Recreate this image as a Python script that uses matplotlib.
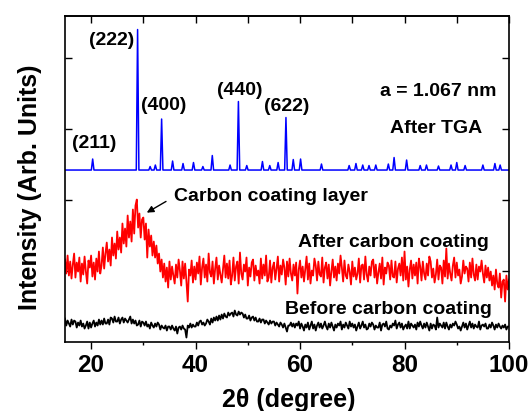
import numpy as np
import matplotlib
matplotlib.use('Agg')
import matplotlib.pyplot as plt

plt.rcParams['font.family'] = ['Liberation Sans', 'DejaVu Sans']
plt.rcParams['font.weight'] = 'bold'

# --- data (intensity in arbitrary units) ---
two_theta_start = 15.0
two_theta_step = 0.25

# After TGA: flat baseline plus sharp peaks (position, top)
tga_baseline = 171.5
tga_peak_pos = [20.3, 28.9, 31.3, 32.3, 33.5, 35.6, 37.6, 39.6, 41.4, 43.2,
                46.6, 48.2, 49.8, 52.8, 54.2, 55.8, 57.3, 58.7, 60.1, 64.1,
                69.4, 70.7, 72.0, 73.2, 74.5, 76.9, 78.0, 80.4, 83.0, 84.2,
                86.5, 88.9, 90.0, 91.6, 95.0, 97.3, 98.3]
tga_peak_top = [182.5, 312, 175, 176.5, 222.5, 180.5, 178, 179, 175, 186,
                176.5, 240, 176, 180, 176, 179, 224, 182, 182.5, 177.5,
                176, 178, 176.5, 176, 176.5, 177.5, 184, 181.5, 176, 176.5,
                175.5, 176.5, 179, 176, 176.5, 178, 176.5]

# After carbon coating (one value every 0.25 deg, 15 -> 100)
after_coating = [
    82, 68, 86, 66, 80, 63, 77, 88, 64, 79, 70, 84, 60, 78, 67, 85,
    70, 58, 81, 74, 86, 65, 79, 62, 83, 70, 90, 68, 76, 94, 73, 88,
    99, 80, 92, 76, 104, 86, 98, 83, 110, 92, 104, 89, 118, 98, 113, 95,
    126, 104, 120, 100, 132, 108, 136, 142, 114, 128, 104, 122, 124, 102, 118, 84,
    112, 95, 106, 86, 100, 84, 96, 78, 88, 70, 82, 64, 78, 60, 74, 54,
    80, 62, 75, 66, 58, 77, 64, 82, 71, 56, 80, 63, 78, 60, 40, 72,
    66, 81, 59, 75, 62, 79, 68, 85, 57, 74, 83, 64, 77, 60, 88, 69,
    65, 80, 58, 73, 84, 62, 76, 67, 59, 72, 86, 64, 78, 63, 81, 57,
    66, 84, 61, 75, 80, 58, 89, 68, 62, 77, 70, 84, 56, 74, 65, 79,
    82, 61, 76, 66, 71, 58, 83, 63, 77, 66, 86, 60, 64, 81, 59, 74,
    79, 62, 73, 85, 60, 76, 67, 82, 74, 57, 80, 65, 83, 68, 61, 77,
    66, 79, 48, 72, 81, 64, 75, 60, 73, 85, 62, 78, 58, 71, 66, 83,
    76, 61, 80, 67, 65, 84, 59, 74, 79, 63, 77, 56, 70, 82, 64, 75,
    61, 78, 68, 86, 74, 60, 81, 66, 63, 77, 70, 57, 80, 65, 74, 62,
    68, 83, 59, 76, 77, 62, 85, 67, 60, 75, 66, 80, 82, 64, 77, 58,
    69, 78, 63, 84, 57, 74, 68, 79, 76, 62, 81, 65, 64, 80, 59, 73,
    78, 66, 84, 61, 90, 62, 75, 55, 72, 81, 63, 77, 66, 79, 58, 83,
    75, 61, 80, 68, 62, 78, 66, 85, 80, 64, 73, 59, 67, 82, 62, 76,
    74, 58, 81, 65, 93, 63, 78, 68, 61, 76, 84, 64, 79, 66, 72, 58,
    65, 81, 68, 75, 73, 60, 79, 64, 83, 67, 61, 77, 62, 75, 70, 81,
    68, 59, 76, 64, 74, 61, 70, 56, 66, 52, 72, 58, 54, 68, 44, 60,
    62, 40, 66, 52, 62]

# Before carbon coating (one value every 0.25 deg, 15 -> 100)
before_coating = [
    23, 16, 21, 18, 15, 22, 17, 21, 20, 14, 19, 16, 21, 15, 18, 13,
    16, 20, 13, 19, 14, 18, 21, 15, 19, 16, 22, 17, 21, 17, 23, 18,
    18, 22, 17, 24, 23, 19, 25, 20, 20, 24, 18, 22, 24, 19, 23, 21,
    19, 22, 25, 18, 22, 18, 21, 16, 17, 21, 15, 20, 19, 16, 20, 15,
    17, 13, 19, 16, 14, 18, 15, 19, 17, 12, 16, 14, 13, 16, 11, 15,
    15, 12, 16, 13, 11, 15, 8, 14, 15, 12, 16, 13, 12, 4, 16, 14,
    18, 14, 17, 15, 15, 19, 16, 20, 21, 17, 19, 16, 18, 22, 20, 17,
    23, 19, 24, 21, 25, 21, 26, 22, 27, 23, 28, 25, 24, 29, 26, 28,
    29, 25, 31, 27, 26, 30, 27, 29, 28, 24, 27, 23, 23, 26, 21, 24,
    25, 21, 24, 20, 20, 23, 19, 22, 22, 18, 21, 19, 17, 21, 18, 20,
    20, 16, 19, 17, 15, 19, 17, 14, 18, 14, 10, 16, 16, 19, 15, 18,
    14, 18, 16, 20, 13, 18, 15, 11, 17, 14, 19, 12, 16, 20, 13, 17,
    11, 16, 19, 14, 18, 13, 16, 20, 15, 12, 18, 14, 19, 15, 11, 17,
    14, 18, 16, 20, 12, 17, 14, 19, 16, 13, 20, 15, 18, 14, 17, 11,
    15, 19, 13, 16, 20, 14, 17, 12, 13, 18, 15, 19, 17, 12, 16, 14,
    14, 19, 11, 17, 18, 15, 20, 13, 12, 16, 14, 18, 16, 21, 13, 17,
    19, 14, 18, 12, 15, 17, 13, 20, 13, 18, 16, 14, 17, 12, 19, 15,
    20, 16, 13, 18, 14, 19, 15, 11, 18, 13, 17, 16, 12, 24, 14, 18,
    16, 14, 19, 13, 19, 15, 12, 17, 14, 18, 16, 20, 17, 13, 15, 11,
    15, 19, 14, 18, 12, 16, 20, 14, 18, 13, 17, 15, 14, 20, 12, 16,
    17, 15, 18, 13, 13, 17, 14, 19, 16, 12, 17, 14, 18, 15, 13, 16,
    14, 17, 12, 15, 15]

x_ticks_major = [20, 40, 60, 80, 100]
x_tick_labels = ['20', '40', '60', '80', '100']

# --- build traces ---
scan = two_theta_start + two_theta_step * np.arange(len(after_coating))

tga_x = [two_theta_start]
tga_y = [tga_baseline]
for p, h in zip(tga_peak_pos, tga_peak_top):
    tga_x += [p - 0.25, p, p + 0.25]
    tga_y += [tga_baseline, h, tga_baseline]
tga_x.append(100)
tga_y.append(tga_baseline)

fig = plt.figure(figsize=(5.3, 4.11), dpi=100)
ax = fig.add_axes([0.1226, 0.169, 0.8378, 0.792])

ax.plot(tga_x, tga_y, color='#0000ff', lw=1.1)
ax.plot(scan, after_coating, color='#ff0000', lw=1.3)
ax.plot(scan, before_coating, color='black', lw=1.3)

ax.set_xlim(15, 100)
ax.set_ylim(0, 325.5)

# ticks: bottom outward, others inward
ax.set_xticks(x_ticks_major)
ax.set_xticklabels(x_tick_labels)
ax.set_xticks([30, 50, 70, 90], minor=True)
ax.tick_params(axis='x', which='major', direction='out', length=5, width=1,
               labelsize=17.5, pad=4)
ax.tick_params(axis='x', which='minor', direction='out', length=2.5, width=1)
ax.set_yticks([71, 142, 213, 284])
ax.tick_params(axis='y', which='both', direction='in', length=5, width=1,
               left=True, right=True, labelleft=False)
for lab in ax.get_xticklabels():
    lab.set_fontweight('bold')

top = ax.secondary_xaxis('top')
top.set_xticks([20, 30, 40, 50, 60, 70, 80, 90, 100])
top.tick_params(direction='in', length=5, width=1, labeltop=False)
top.spines['top'].set_linewidth(1.2)

for s in ax.spines.values():
    s.set_linewidth(1.2)

ax.set_xlabel('2θ (degree)', fontsize=18, fontweight='bold')
ax.xaxis.set_label_coords(0.505, -0.143)
ax.set_ylabel('Intensity (Arb. Units)', fontsize=18, fontweight='bold')
ax.yaxis.set_label_coords(-0.052, 0.475)

# annotations
lab_kw = dict(fontsize=14, fontweight='bold', ha='center', va='center')
ax.text(20.6, 198.5, '(211)', **lab_kw)
ax.text(23.9, 301.5, '(222)', **lab_kw)
ax.text(33.9, 236.5, '(400)', **lab_kw)
ax.text(48.4, 251.5, '(440)', **lab_kw)
ax.text(57.4, 235.5, '(622)', **lab_kw)
ax.text(86.4, 250.5, 'a = 1.067 nm', **lab_kw)
ax.text(86.0, 213.5, 'After TGA', **lab_kw)
ax.text(54.4, 145.5, 'Carbon coating layer', **lab_kw)
ax.text(77.8, 99.5, 'After carbon coating', **lab_kw)
ax.text(76.9, 32.5, 'Before carbon coating', **lab_kw)
ax.annotate('', xy=(30.2, 127.5), xytext=(34.8, 141.5),
            arrowprops=dict(arrowstyle='-|>', color='black', lw=1,
                            mutation_scale=10))

fig.savefig('out.png', dpi=100)
